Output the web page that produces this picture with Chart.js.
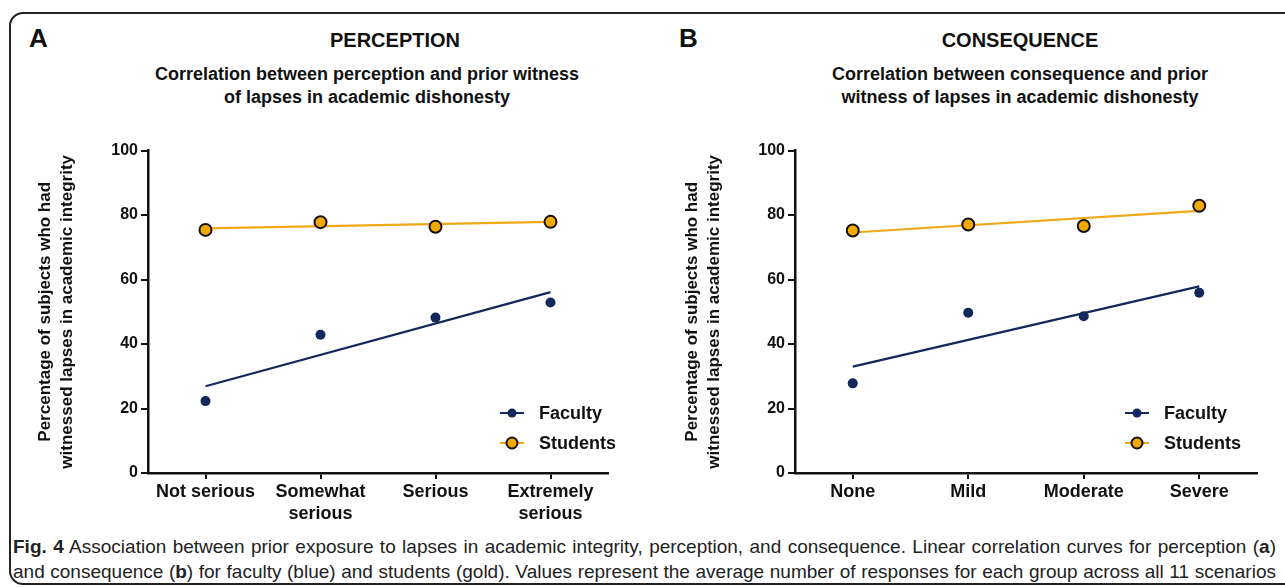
<!DOCTYPE html>
<html>
<head>
<meta charset="utf-8">
<script src="https://cdn.jsdelivr.net/npm/chart.js@4.4.1/dist/chart.umd.min.js"></script>
<style>
  html, body { margin: 0; padding: 0; background: #fff; }
  body { width: 1285px; height: 588px; position: relative; overflow: hidden; font-family: "Liberation Sans", Arial, sans-serif; color: #111; }
  .frame { position: absolute; left: 9px; top: 12px; width: 1300px; height: 569px; border: 2px solid #222; border-radius: 14px; }
  .panel-letter { position: absolute; font-weight: bold; font-size: 26px; line-height: 26px; }
  .panel-title { position: absolute; font-weight: bold; font-size: 20px; line-height: 20px; text-align: center; width: 400px; }
  .panel-sub { position: absolute; font-weight: bold; font-size: 18px; line-height: 23px; text-align: center; width: 520px; }
  .plot { position: absolute; top: 138px; width: 600px; height: 390px; }
  .caption { position: absolute; left: 13px; width: 1263px; top: 534px; font-size: 19px; line-height: 25px; color: #222; }
  .caption div { text-align: justify; text-align-last: justify; white-space: nowrap; }
</style>
</head>
<body>
<div class="frame"></div>

<div class="panel-letter" style="left:29px; top:25px;">A</div>
<div class="panel-title" style="left:195px; top:30px;">PERCEPTION</div>
<div class="panel-sub" style="left:107px; top:63px;">Correlation between perception and prior witness<br>of lapses in academic dishonesty</div>
<div class="plot" style="left:20px;"><canvas id="chartA"></canvas></div>

<div class="panel-letter" style="left:679px; top:25px;">B</div>
<div class="panel-title" style="left:820px; top:30px;">CONSEQUENCE</div>
<div class="panel-sub" style="left:760px; top:63px;">Correlation between consequence and prior<br>witness of lapses in academic dishonesty</div>
<div class="plot" style="left:667px;"><canvas id="chartB"></canvas></div>

<div class="caption">
  <div><b>Fig. 4</b> Association between prior exposure to lapses in academic integrity, perception, and consequence. Linear correlation curves for perception (<b>a</b>)</div>
  <div>and consequence (<b>b</b>) for faculty (blue) and students (gold). Values represent the average number of responses for each group across all 11 scenarios</div>
</div>

<script>
// categories
const perceptionLabels = ['Not serious', ['Somewhat', 'serious'], 'Serious', ['Extremely', 'serious']];
const consequenceLabels = ['None', 'Mild', 'Moderate', 'Severe'];

// % who had witnessed lapses, per group
const facultyPerception = [22.3, 42.9, 48.2, 52.9];
const studentsPerception = [75.4, 77.8, 76.4, 77.9];
const facultyConsequence = [27.8, 49.7, 48.6, 55.9];
const studentsConsequence = [75.2, 77.1, 76.6, 82.9];

// fitted line end values (first and last category)
const facultyPerceptionFit = [26.9, null, null, 56.1];
const studentsPerceptionFit = [75.9, null, null, 77.9];
const facultyConsequenceFit = [33.0, null, null, 57.9];
const studentsConsequenceFit = [74.6, null, null, 81.3];

// y axis
const yMin = 0, yMax = 100, yStep = 20;

const NAVY = '#13285a';
const GOLD = '#f2a900';
const GOLD_LINE = '#f0a817';
const FONT = 'Liberation Sans, Arial, sans-serif';

// legend drawn inside the plot area, one row per point series
const insideLegend = {
  id: 'insideLegend',
  afterDatasetsDraw(chart, args, opts) {
    const ctx = chart.ctx;
    const items = chart.data.datasets.filter(d => d.showLine === false);
    ctx.save();
    items.forEach((d, i) => {
      const y = opts.y + i * opts.gap;
      ctx.strokeStyle = d.legendLine;
      ctx.lineWidth = 2;
      ctx.beginPath();
      ctx.moveTo(opts.x, y);
      ctx.lineTo(opts.x + 24, y);
      ctx.stroke();
      ctx.beginPath();
      ctx.arc(opts.x + 12, y, d.pointRadius - 0.5, 0, Math.PI * 2);
      ctx.fillStyle = d.pointBackgroundColor;
      ctx.fill();
      if (d.pointBorderWidth) {
        ctx.lineWidth = d.pointBorderWidth;
        ctx.strokeStyle = d.pointBorderColor;
        ctx.stroke();
      }
      ctx.fillStyle = '#111';
      ctx.font = 'bold 18px ' + FONT;
      ctx.textBaseline = 'middle';
      ctx.fillText(d.label, opts.x + 39, y + 1);
    });
    ctx.restore();
  }
};

function makeChart(id, labels, faculty, students, facultyFit, studentsFit, legendX, padRight) {
  return new Chart(document.getElementById(id), {
    type: 'line',
    data: {
      labels: labels,
      datasets: [
        {
          label: 'Faculty', data: faculty, showLine: false, order: 0,
          pointRadius: 5, pointBackgroundColor: NAVY, pointBorderColor: NAVY, pointBorderWidth: 0,
          legendLine: NAVY
        },
        {
          label: 'Students', data: students, showLine: false, order: 0,
          pointRadius: 6, pointBackgroundColor: GOLD, pointBorderColor: '#111', pointBorderWidth: 2,
          legendLine: GOLD_LINE
        },
        {
          label: 'Faculty fit', data: facultyFit, spanGaps: true, order: 1,
          borderColor: NAVY, borderWidth: 2.2, pointRadius: 0
        },
        {
          label: 'Students fit', data: studentsFit, spanGaps: true, order: 1,
          borderColor: GOLD_LINE, borderWidth: 2.2, pointRadius: 0
        }
      ]
    },
    options: {
      responsive: true,
      maintainAspectRatio: false,
      animation: false,
      layout: { padding: { top: 10, right: padRight, left: 0, bottom: 0 } },
      plugins: {
        legend: { display: false },
        tooltip: { enabled: false },
        insideLegend: { x: legendX, y: 275, gap: 30 }
      },
      scales: {
        x: {
          offset: true,
          grid: { drawOnChartArea: false, offset: false, color: '#111', lineWidth: 2, tickLength: 6 },
          border: { color: '#111', width: 2.5 },
          ticks: { color: '#111', padding: 3, maxRotation: 0, autoSkip: false, font: { family: FONT, size: 18, weight: 'bold', lineHeight: 1.17 } },
          afterFit(scale) { scale.height = 55; }
        },
        y: {
          min: yMin, max: yMax,
          ticks: { stepSize: yStep, color: '#111', padding: 3, font: { family: FONT, size: 16, weight: 'bold' } },
          grid: { drawOnChartArea: false, color: '#111', lineWidth: 2, tickLength: 7 },
          border: { color: '#111', width: 2.5 },
          title: {
            display: true,
            text: ['Percentage of subjects who had', 'witnessed lapses in academic integrity'],
            color: '#111',
            padding: { top: 14, bottom: 0 },
            font: { family: FONT, size: 17, weight: 'bold', lineHeight: 1.3 }
          },
          afterFit(scale) { scale.width = 128; }
        }
      }
    },
    plugins: [insideLegend]
  });
}

makeChart('chartA', perceptionLabels, facultyPerception, studentsPerception, facultyPerceptionFit, studentsPerceptionFit, 480, 12);
makeChart('chartB', consequenceLabels, facultyConsequence, studentsConsequence, facultyConsequenceFit, studentsConsequenceFit, 458, 10);
</script>
</body>
</html>
